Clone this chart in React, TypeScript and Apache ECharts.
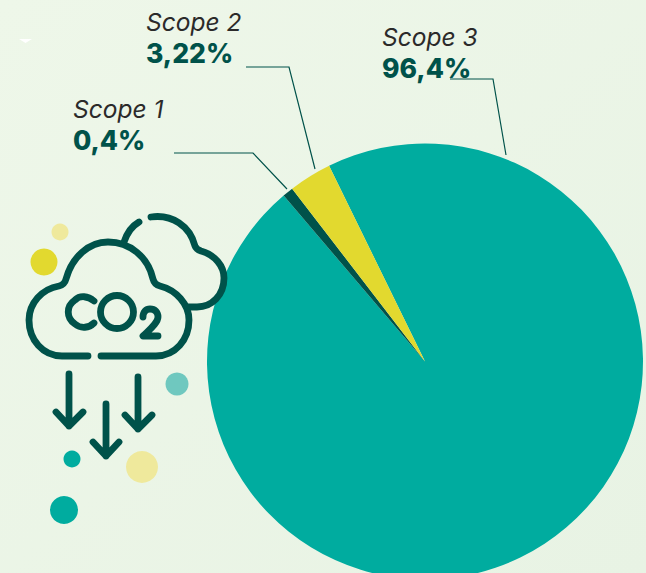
import React, { useEffect, useRef } from "react";
import * as echarts from "echarts";

const scopeNames = ["Scope 3", "Scope 1", "Scope 2"];
const scopeLabels = ["96,4%", "0,4%", "3,22%"];
// Slice shares as drawn in the picture (the thin slice is drawn wider than its printed label).
const sliceValues = [96.02, 0.8, 3.18];
const sliceColors = ["#00ac9f", "#00524a", "#e2d92f"];

const TEAL = "#00ac9f";
const DARK = "#00524a";
const YELLOW = "#e2d92f";
const PALE = "#efe99c";
const MINT = "#6fc8bf";
const FONT = "Inter";

const labelAnchors = [
  { x: 382, nameY: 49, valueY: 81, line: [[450, 79], [493, 79], [506, 155]] },
  { x: 73, nameY: 121, valueY: 153, line: [[174, 153], [253, 153], [287, 189]] },
  { x: 146, nameY: 34, valueY: 66, line: [[246, 67], [289, 67], [315, 169]] },
];

const iconPaths: Record<string, string> = {
  frontCloud:
    "M88 356 H62 C43 356 29 340 29 320 C29 303 42 289 59 286 C63 285 65 283 66 279 C72 257 89 242 108 242 C130 242 148 257 153 279 C154 283 156 285 160 286 C176 290 189 304 189 320 C189 340 175 356 156 356 H101",
  backCloud:
    "M124 242 C127 233 132 226 139 222 M151 217 C172 214 190 226 195 246 C196 249 198 250 201 251 C215 255 224 266 224 278 C224 295 212 307 197 307 H188",
  letterC: "M94 301 C88 296 80 295 75 300 C66 306 66 318 75 324 C81 329 89 328 94 323",
  letterO: "M117 295.5 C126 295.5 133.5 303 133.5 312 C133.5 321 126 328.5 117 328.5 C108 328.5 100.5 321 100.5 312 C100.5 303 108 295.5 117 295.5 Z",
  letterTwo: "M143 317 C143 312 146 309 150 309 C155 309 158 312 158 317 C158 323 149 330 143 336 H158",
  arrows:
    "M69 374 V426 M56 412 L69 426 L83 412 M106 404 V456 M93 442 L106 456 L119 442 M138 377 V429 M125 415 L138 429 L152 415",
};

Object.entries(iconPaths).forEach(([name, d]) => {
  echarts.graphic.registerShape(name, echarts.graphic.extendPath(d, {}));
});

const dots = [
  { cx: 60, cy: 232, r: 8.5, fill: PALE },
  { cx: 44, cy: 262, r: 13.5, fill: YELLOW },
  { cx: 177, cy: 384, r: 11.5, fill: MINT },
  { cx: 72, cy: 459, r: 8.5, fill: TEAL },
  { cx: 142, cy: 467, r: 16, fill: PALE },
  { cx: 64, cy: 510, r: 14, fill: TEAL },
];

export default function App() {
  const ref = useRef<HTMLDivElement>(null);
  useEffect(() => {
    document.body.style.margin = "0";
    const chart = echarts.init(ref.current!, null, { renderer: "svg" });
    chart.setOption({
      animation: false,
      backgroundColor: {
        type: "linear",
        x: 0,
        y: 0,
        x2: 1,
        y2: 1,
        colorStops: [
          { offset: 0, color: "#eef7e9" },
          { offset: 1, color: "#e8f3e4" },
        ],
      },
      series: [
        {
          type: "pie",
          center: [425, 361.5],
          radius: [0, 218],
          startAngle: 116.1,
          clockwise: true,
          silent: true,
          label: { show: false },
          labelLine: { show: false },
          data: sliceValues.map((value, i) => ({
            value,
            name: scopeNames[i],
            itemStyle: { color: sliceColors[i] },
          })),
        },
      ],
      graphic: [
        ...dots.map((d) => ({
          type: "circle",
          z: 10,
          shape: { cx: d.cx, cy: d.cy, r: d.r },
          style: { fill: d.fill },
        })),
        {
          type: "polygon",
          z: 10,
          shape: { points: [[19, 39], [32, 39], [25.5, 43]] },
          style: { fill: "#ffffff" },
        },
        ...Object.keys(iconPaths).map((name) => ({
          type: name,
          z: 11,
          x: 0,
          y: 0,
          style: {
            fill: "none",
            stroke: DARK,
            lineWidth: 6.8,
            lineCap: "round",
            lineJoin: "round",
          },
        })),
        ...labelAnchors.flatMap((a, i) => [
          {
            type: "polyline",
            z: 12,
            shape: { points: a.line },
            style: { fill: "none", stroke: DARK, lineWidth: 1.2 },
          },
          {
            type: "text",
            z: 12,
            x: a.x,
            y: a.nameY,
            style: {
              text: scopeNames[i],
              fontFamily: FONT,
              fontStyle: "italic",
              fontSize: 24.5,
              fontWeight: 400,
              fill: "#2b2a2a",
              verticalAlign: "bottom",
            },
          },
          {
            type: "text",
            z: 12,
            x: a.x,
            y: a.valueY,
            style: {
              text: scopeLabels[i],
              fontFamily: FONT,
              fontWeight: 800,
              fontSize: 26.5,
              fill: DARK,
              verticalAlign: "bottom",
            },
          },
        ]),
      ],
    });
    return () => chart.dispose();
  }, []);
  return (
    <div
      ref={ref}
      style={{ position: "absolute", left: 0, top: 0, width: 646, height: 573, overflow: "hidden" }}
    />
  );
}
